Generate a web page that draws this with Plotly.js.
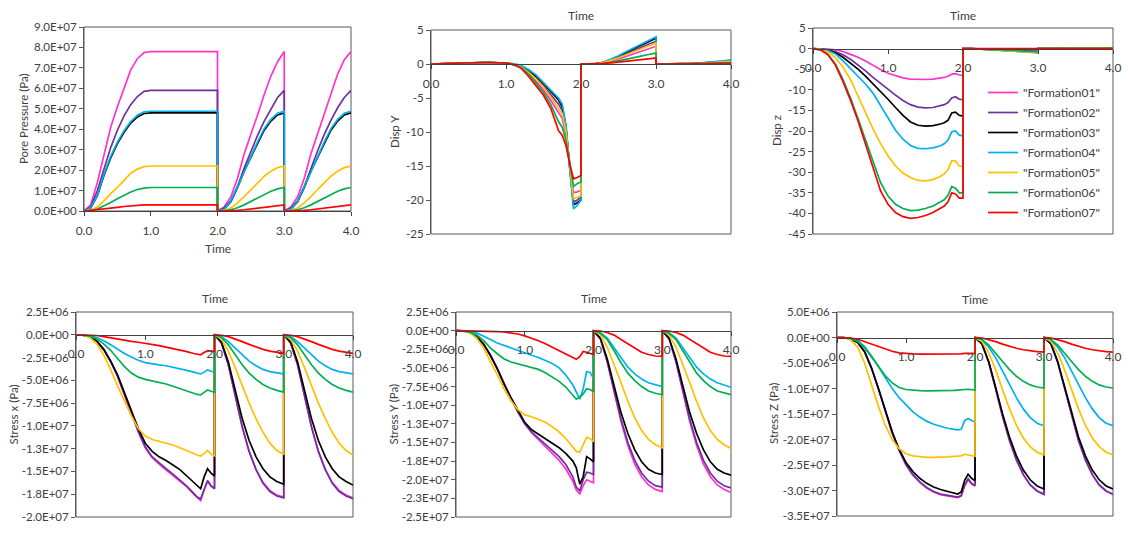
<!DOCTYPE html>
<html>
<head>
<meta charset="utf-8">
<script src="https://cdn.plot.ly/plotly-3.0.1.min.js"></script>
<style>html,body{margin:0;padding:0;background:#fff;}#chart{width:1128px;height:535px;}</style>
</head>
<body>
<div id="chart"></div>
<script>
// ---------------- DATA ----------------
const time = [0,0.1,0.2,0.3,0.4,0.5,0.6,0.7,0.8,0.9,1.0,1.1,1.2,1.3,1.4,1.5,1.6,1.7,1.75,1.8,1.85,1.9,1.95,2.0,
  2.0,2.1,2.2,2.3,2.4,2.5,2.6,2.7,2.8,2.9,3.0,
  3.0,3.1,3.2,3.3,3.4,3.5,3.6,3.7,3.8,3.9,4.0];

const formations = ['"Formation01"','"Formation02"','"Formation03"','"Formation04"','"Formation05"','"Formation06"','"Formation07"'];

// Pore pressure, MPa (1 MPa = 1.0E+06 Pa)
const pore_F01 = [0,3,14,28,41,51,60,69,74.5,77.5,78,78,78,78,78,78,78,78,78,78,78,78,78,78, 0,2,7,16,28,37,47,57,66,73,78, 0,2,7,16,28,38,48,58,67,74,78];
const pore_F02 = [0,2,10,21,31,39.5,46.5,52,56,58.5,59,59,59,59,59,59,59,59,59,59,59,59,59,59, 0,1.5,5,12,21,29,37,44,50,55.5,59, 0,1.5,5,12,21,29.5,37.5,44.5,50.5,55.5,59];
const pore_F03 = [0,1.5,7.5,17.5,26,33,38.5,43,46,47.7,48,48,48,48,48,48,48,48,48,48,48,48,48,48, 0,1,4.5,11.5,19.5,26.5,33,39.5,44,47,48, 0,1,4.5,11.5,19.5,26.5,33,39.5,44,47,48];
const pore_F04 = [0,1.6,7.8,18,26.7,33.7,39.3,43.8,46.8,48.5,48.8,48.8,48.8,48.8,48.8,48.8,48.8,48.8,48.8,48.8,48.8,48.8,48.8,48.8, 0,1,4.7,12,20,27.2,33.8,40.3,44.8,47.8,48.8, 0,1,4.7,12,20,27.2,33.8,40.3,44.8,47.8,48.8];
const pore_F05 = [0,0.5,2,5,8.5,11.5,15,18.5,20.5,21.7,22,22,22,22,22,22,22,22,22,22,22,22,22,22, 0,0.3,1.5,4,7,10.5,14,17,19.5,21.2,22, 0,0.3,1.5,4,7,10.5,14,17,19.5,21.2,22];
const pore_F06 = [0,0.2,1,2.5,4.2,6,7.8,9.3,10.5,11.2,11.5,11.5,11.5,11.5,11.5,11.5,11.5,11.5,11.5,11.5,11.5,11.5,11.5,11.5, 0,0.1,0.6,1.6,3,4.7,6.5,8.2,9.7,10.8,11.5, 0,0.1,0.6,1.6,3,4.7,6.5,8.2,9.7,10.8,11.5];
const pore_F07 = [0,0.3,0.7,1,1.4,1.8,2.2,2.5,2.8,3,3,3,3,3,3,3,3,3,3,3,3,3,3,3, 0,0,0.1,0.3,0.6,1,1.4,1.9,2.4,2.8,3, 0,0,0.1,0.3,0.6,1,1.4,1.9,2.4,2.8,3];

// Disp Y
const dispY_F01 = [0,0,0.05,0.1,0.15,0.2,0.22,0.22,0.22,0.2,0.15,-0.1,-0.45,-1.35,-2.5,-3.8,-5.4,-7.2,-8.0,-10.5,-14.6,-18.9,-18.8,-18.6, 0,0,0.03,0.15,0.4,0.75,1.1,1.5,1.85,2.25,2.6, 0,0,0,0.01,0.03,0.05,0.08,0.12,0.17,0.23,0.3];
const dispY_F02 = [0,0,0.05,0.1,0.15,0.2,0.22,0.22,0.22,0.2,0.15,-0.05,-0.35,-1.1,-2.0,-3.2,-4.5,-5.9,-6.8,-9.6,-15.0,-20.3,-20.0,-19.6, 0,0,0.04,0.2,0.55,0.95,1.45,1.95,2.4,2.9,3.3, 0,0,0,0.02,0.04,0.07,0.12,0.18,0.25,0.33,0.45];
const dispY_F03 = [0,0,0.05,0.1,0.15,0.2,0.22,0.22,0.22,0.2,0.15,0.0,-0.3,-1.0,-1.8,-2.9,-4.1,-5.3,-6.3,-9.3,-15.3,-20.7,-20.4,-20.0, 0,0,0.05,0.25,0.65,1.1,1.7,2.25,2.8,3.35,3.8, 0,0,0,0.02,0.04,0.08,0.14,0.2,0.28,0.37,0.5];
const dispY_F04 = [0,0,0.05,0.1,0.15,0.2,0.22,0.22,0.22,0.2,0.15,0.05,-0.2,-0.8,-1.6,-2.7,-3.9,-5.0,-5.9,-9.0,-15.5,-21.3,-20.8,-20.0, 0,0,0.05,0.25,0.7,1.2,1.8,2.35,2.9,3.5,4.0, 0,0,0,0.02,0.05,0.1,0.17,0.25,0.35,0.45,0.6];
const dispY_F05 = [0,0,0.05,0.1,0.15,0.2,0.22,0.22,0.22,0.2,0.15,-0.05,-0.4,-1.2,-2.2,-3.4,-4.9,-6.5,-7.3,-10.0,-14.8,-19.8,-19.6,-19.4, 0,0,0.04,0.2,0.5,0.9,1.35,1.8,2.25,2.7,3.1, 0,0,0,0.01,0.03,0.06,0.1,0.15,0.21,0.28,0.4];
const dispY_F06 = [0,0,0.05,0.1,0.15,0.2,0.22,0.22,0.22,0.2,0.15,-0.1,-0.5,-1.5,-2.8,-4.2,-6.0,-8.5,-9.3,-11.2,-14.5,-18.0,-17.6,-17.3, 0,0,0.02,0.1,0.25,0.45,0.7,0.95,1.15,1.4,1.6, 0,0,0,0.01,0.02,0.04,0.06,0.09,0.12,0.16,0.2];
const dispY_F07 = [0,0,0.05,0.1,0.15,0.2,0.22,0.22,0.22,0.2,0.15,-0.1,-0.6,-1.8,-3.2,-4.6,-6.6,-9.8,-10.5,-12.0,-14.7,-16.9,-16.7,-16.4, 0,0,0.02,0.08,0.17,0.27,0.38,0.5,0.62,0.76,0.9, 0,0,0,0,0.01,0.02,0.03,0.05,0.07,0.09,0.1];

// Disp z
const dispZ_F01 = [0,0,-0.1,-0.3,-0.7,-1.4,-2.1,-3.0,-4.1,-5.1,-6.0,-6.6,-7.1,-7.4,-7.5,-7.5,-7.4,-7.2,-7.0,-6.7,-6.2,-6.1,-6.4,-6.5, 0,0,-0.05,-0.1,-0.15,-0.2,-0.25,-0.3,-0.35,-0.4,-0.45, 0,0,0,0,0,0,0,0.01,0.02,0.04,0.05];
const dispZ_F02 = [0,-0.1,-0.3,-0.8,-1.5,-2.6,-3.9,-5.4,-7.0,-8.5,-9.9,-11.3,-12.6,-13.6,-14.2,-14.4,-14.3,-13.9,-13.6,-13.1,-12.0,-11.7,-12.3,-12.4, 0,-0.02,-0.05,-0.1,-0.2,-0.3,-0.4,-0.5,-0.6,-0.65,-0.7, 0,0,0,0,0,0,0.01,0.02,0.04,0.06,0.08];
const dispZ_F03 = [0,-0.1,-0.4,-1.0,-2.1,-3.5,-5.0,-6.7,-8.5,-10.3,-12.3,-14.3,-16.2,-17.8,-18.6,-18.8,-18.7,-18.3,-18.0,-17.4,-15.6,-15.4,-16.2,-16.4, 0,-0.03,-0.07,-0.15,-0.25,-0.35,-0.5,-0.6,-0.7,-0.8,-0.85, 0,0,0,0,0,0.01,0.02,0.04,0.07,0.1,0.13];
const dispZ_F04 = [0,-0.1,-0.5,-1.3,-3.0,-4.8,-6.6,-8.6,-10.8,-13.8,-16.9,-19.8,-22.0,-23.5,-24.2,-24.3,-24.1,-23.6,-23.1,-22.2,-20.2,-20.0,-21.0,-21.2, 0,-0.03,-0.08,-0.15,-0.3,-0.4,-0.55,-0.7,-0.8,-0.9,-1.0, 0,0,0,0,0,0,0.02,0.05,0.1,0.15,0.2];
const dispZ_F05 = [0,-0.2,-0.8,-2.2,-4.5,-7.5,-11.5,-15.5,-19.5,-23,-26,-28.5,-30.2,-31.3,-32.0,-32.1,-31.8,-31.0,-30.4,-29.4,-27.2,-27.3,-28.5,-28.6, 0,-0.03,-0.08,-0.15,-0.3,-0.4,-0.55,-0.7,-0.8,-0.9,-1.0, 0,0,0,0,0,0,0.02,0.04,0.08,0.12,0.17];
const dispZ_F06 = [0,-0.3,-1.4,-3.8,-7.5,-12.0,-17,-22,-27.5,-32.5,-35.8,-37.8,-38.8,-39.3,-39.2,-38.8,-38.2,-37.3,-36.7,-35.6,-33.5,-33.9,-35.0,-35.0, 0,-0.02,-0.06,-0.12,-0.2,-0.3,-0.4,-0.5,-0.6,-0.7,-0.8, 0,0,0,0,0,0,0.01,0.03,0.05,0.08,0.1];
const dispZ_F07 = [0,-0.3,-1.5,-4.0,-8.0,-12.5,-17.5,-23,-29,-34.5,-37.8,-39.8,-40.8,-41.2,-41.0,-40.5,-39.8,-38.8,-38.2,-37.2,-35.0,-35.3,-36.3,-36.3, 0,0,0,-0.02,-0.04,-0.06,-0.08,-0.1,-0.12,-0.14,-0.15, 0,0,0,0,0,0,0,0.01,0.02,0.03,0.04];

// Stress x, MPa
const stressX_F01 = [0,-0.03,-0.2,-0.7,-1.6,-2.9,-4.6,-6.6,-8.7,-10.7,-12.4,-13.5,-14.2,-14.8,-15.4,-16.0,-16.7,-17.5,-17.9,-18.2,-17.0,-16.1,-16.6,-16.8, 0,-0.9,-3.3,-6.8,-10.1,-12.8,-14.8,-16.2,-17.1,-17.6,-17.8, 0,-0.9,-3.3,-6.8,-10.1,-12.8,-14.8,-16.2,-17.1,-17.6,-17.9];
const stressX_F02 = [0,-0.03,-0.2,-0.7,-1.6,-2.9,-4.5,-6.4,-8.5,-10.6,-12.3,-13.4,-14.1,-14.7,-15.3,-15.9,-16.6,-17.4,-17.8,-18.0,-16.9,-16.0,-16.6,-16.9, 0,-0.9,-3.3,-6.8,-10.1,-12.8,-14.8,-16.3,-17.2,-17.7,-17.9, 0,-0.9,-3.3,-6.8,-10.1,-12.8,-14.8,-16.3,-17.2,-17.7,-18.0];
const stressX_F03 = [0,-0.03,-0.2,-0.7,-1.6,-2.9,-4.4,-6.3,-8.3,-10.3,-11.9,-12.8,-13.4,-13.8,-14.3,-14.8,-15.5,-16.2,-16.6,-16.9,-15.6,-14.7,-15.2,-15.5, 0,-0.8,-3.0,-6.2,-9.2,-11.6,-13.4,-14.7,-15.6,-16.1,-16.4, 0,-0.8,-3.0,-6.2,-9.2,-11.6,-13.4,-14.7,-15.6,-16.1,-16.5];
const stressX_F04 = [0,-0.02,-0.1,-0.3,-0.65,-1.1,-1.6,-2.05,-2.45,-2.8,-3.05,-3.2,-3.3,-3.4,-3.55,-3.7,-3.9,-4.1,-4.2,-4.3,-4.1,-3.85,-4.0,-4.05, 0,-0.2,-0.75,-1.5,-2.25,-2.9,-3.4,-3.8,-4.05,-4.2,-4.3, 0,-0.2,-0.75,-1.5,-2.25,-2.9,-3.4,-3.8,-4.05,-4.2,-4.3];
const stressX_F05 = [0,-0.05,-0.3,-1.0,-2.2,-3.8,-5.6,-7.3,-8.9,-10.3,-11.1,-11.5,-11.7,-11.9,-12.1,-12.4,-12.75,-13.1,-13.2,-13.3,-13.05,-12.7,-13.1,-13.3, 0,-0.5,-1.8,-3.6,-5.6,-7.5,-9.2,-10.7,-11.9,-12.7,-13.1, 0,-0.5,-1.8,-3.6,-5.6,-7.5,-9.2,-10.7,-11.9,-12.7,-13.2];
const stressX_F06 = [0,-0.03,-0.15,-0.45,-1.0,-1.7,-2.6,-3.5,-4.2,-4.65,-4.9,-5.05,-5.2,-5.4,-5.65,-5.9,-6.15,-6.45,-6.55,-6.6,-6.3,-6.05,-6.2,-6.3, 0,-0.3,-1.1,-2.2,-3.3,-4.2,-4.9,-5.45,-5.85,-6.1,-6.3, 0,-0.3,-1.1,-2.2,-3.3,-4.2,-4.9,-5.45,-5.85,-6.1,-6.3];
const stressX_F07 = [0,0,-0.02,-0.08,-0.2,-0.35,-0.5,-0.62,-0.72,-0.82,-0.92,-1.05,-1.2,-1.35,-1.5,-1.65,-1.85,-2.05,-2.15,-2.2,-1.95,-1.75,-1.8,-1.85, 0,-0.05,-0.2,-0.45,-0.75,-1.05,-1.35,-1.6,-1.8,-1.95,-2.05, 0,-0.05,-0.2,-0.45,-0.75,-1.05,-1.35,-1.6,-1.8,-1.95,-2.05];

// Stress Y, MPa
const stressY_F01 = [0,-0.03,-0.2,-0.8,-1.8,-3.3,-5.1,-7.2,-9.1,-10.9,-12.5,-13.7,-14.6,-15.5,-16.4,-17.4,-18.6,-20.2,-21.4,-21.9,-20.8,-20.0,-20.2,-20.4, 0,-1.1,-4.2,-8.3,-12.2,-15.4,-17.9,-19.6,-20.7,-21.3,-21.6, 0,-1.1,-4.2,-8.3,-12.2,-15.4,-17.9,-19.6,-20.7,-21.3,-21.7];
const stressY_F02 = [0,-0.03,-0.2,-0.8,-1.8,-3.3,-5.1,-7.2,-9.1,-10.9,-12.5,-13.6,-14.4,-15.2,-16.0,-16.9,-18.0,-19.6,-21.0,-21.5,-20.0,-19.0,-19.1,-19.3, 0,-1.1,-4.1,-8.1,-11.9,-15.0,-17.4,-19.1,-20.2,-20.8,-21.0, 0,-1.1,-4.1,-8.1,-11.9,-15.0,-17.4,-19.1,-20.2,-20.8,-21.1];
const stressY_F03 = [0,-0.03,-0.2,-0.8,-1.8,-3.3,-5.1,-7.2,-9.0,-10.7,-12.3,-13.3,-13.9,-14.4,-15.0,-15.7,-16.5,-17.5,-18.4,-20.6,-19.6,-16.9,-17.2,-17.6, 0,-1.0,-3.8,-7.5,-11.0,-13.8,-16.0,-17.6,-18.6,-19.1,-19.3, 0,-1.0,-3.8,-7.5,-11.0,-13.8,-16.0,-17.6,-18.6,-19.1,-19.4];
const stressY_F04 = [0,-0.02,-0.1,-0.3,-0.7,-1.2,-1.65,-2.0,-2.35,-2.7,-3.05,-3.3,-3.6,-4.0,-4.4,-5.0,-6.0,-7.3,-8.2,-9.2,-7.8,-5.5,-5.6,-6.4, 0,-0.3,-1.0,-2.3,-3.7,-4.9,-5.8,-6.5,-7.0,-7.3,-7.5, 0,-0.3,-1.0,-2.3,-3.7,-4.9,-5.8,-6.5,-7.0,-7.3,-7.6];
const stressY_F05 = [0,-0.05,-0.3,-1.0,-2.3,-4.0,-5.9,-7.8,-9.4,-10.6,-11.3,-11.55,-11.9,-12.3,-12.9,-13.6,-14.5,-15.6,-16.2,-16.3,-15.3,-14.3,-14.5,-14.9, 0,-0.6,-2.2,-4.5,-7.0,-9.5,-11.7,-13.4,-14.6,-15.3,-15.7, 0,-0.6,-2.2,-4.5,-7.0,-9.5,-11.7,-13.4,-14.6,-15.3,-15.8];
const stressY_F06 = [0,-0.03,-0.2,-0.6,-1.3,-2.3,-3.1,-3.8,-4.2,-4.45,-4.6,-4.85,-5.2,-5.65,-6.2,-6.8,-7.6,-8.6,-9.2,-8.9,-8.5,-7.8,-7.9,-8.2, 0,-0.35,-1.2,-2.7,-4.3,-5.7,-6.7,-7.5,-8.1,-8.4,-8.6, 0,-0.35,-1.2,-2.7,-4.3,-5.7,-6.7,-7.5,-8.1,-8.4,-8.6];
const stressY_F07 = [0,-0.01,-0.02,-0.03,-0.05,-0.08,-0.12,-0.18,-0.28,-0.45,-0.7,-1.0,-1.35,-1.75,-2.2,-2.65,-3.1,-3.6,-3.85,-3.5,-2.8,-2.9,-3.1,-3.2, 0,-0.05,-0.25,-0.6,-1.2,-1.8,-2.4,-2.9,-3.2,-3.4,-3.45, 0,-0.05,-0.25,-0.6,-1.2,-1.8,-2.4,-2.9,-3.2,-3.4,-3.45];

// Stress Z, MPa
const stressZ_F01 = [0,-0.03,-0.3,-1.0,-2.8,-6.0,-10.0,-14.4,-18.7,-22.1,-25.0,-27.0,-28.4,-29.5,-30.3,-30.8,-31.1,-31.3,-31.4,-31.1,-29.1,-27.9,-28.7,-29.1, 0,-1.2,-4.9,-10.1,-15.5,-20.2,-24.0,-26.9,-28.9,-30.1,-30.8, 0,-1.2,-4.9,-10.1,-15.5,-20.2,-24.0,-26.9,-28.9,-30.1,-30.8];
const stressZ_F02 = [0,-0.03,-0.3,-1.0,-2.8,-6.0,-10.0,-14.4,-18.7,-22.1,-24.9,-26.9,-28.3,-29.4,-30.2,-30.7,-31.0,-31.2,-31.3,-31.0,-28.9,-27.7,-28.6,-29.0, 0,-1.2,-4.9,-10.1,-15.5,-20.2,-24.0,-26.9,-28.9,-30.1,-30.7, 0,-1.2,-4.9,-10.1,-15.5,-20.2,-24.0,-26.9,-28.9,-30.1,-30.7];
const stressZ_F03 = [0,-0.03,-0.3,-1.0,-2.8,-6.0,-10.0,-14.3,-18.5,-21.9,-24.5,-26.3,-27.6,-28.6,-29.3,-29.8,-30.2,-30.5,-30.7,-30.3,-28.0,-26.8,-27.6,-28.1, 0,-1.2,-4.8,-9.8,-15.0,-19.5,-23.2,-26.0,-27.9,-29.1,-29.7, 0,-1.2,-4.8,-9.8,-15.0,-19.5,-23.2,-26.0,-27.9,-29.1,-29.7];
const stressZ_F04 = [0,-0.02,-0.15,-0.6,-1.8,-3.6,-5.8,-8.0,-10.0,-11.8,-13.3,-14.6,-15.6,-16.4,-17.0,-17.4,-17.8,-18.0,-18.1,-18.0,-16.3,-15.9,-16.3,-16.6, 0,-0.5,-1.9,-4.0,-6.6,-9.3,-11.8,-14.0,-15.7,-16.8,-17.3, 0,-0.5,-1.9,-4.0,-6.6,-9.3,-11.8,-14.0,-15.7,-16.8,-17.3];
const stressZ_F05 = [0,-0.05,-0.5,-1.9,-5.0,-9.3,-13.5,-17.2,-20.0,-21.8,-22.8,-23.2,-23.4,-23.5,-23.5,-23.5,-23.4,-23.3,-23.3,-23.2,-22.9,-23.0,-23.2,-23.3, 0,-0.8,-3.0,-6.4,-10.3,-14.0,-17.2,-19.7,-21.4,-22.5,-23.0, 0,-0.8,-3.0,-6.4,-10.3,-14.0,-17.2,-19.7,-21.4,-22.5,-23.0];
const stressZ_F06 = [0,-0.03,-0.2,-0.8,-2.0,-3.8,-5.7,-7.5,-8.9,-9.8,-10.2,-10.35,-10.4,-10.45,-10.45,-10.45,-10.4,-10.35,-10.3,-10.3,-10.2,-10.15,-10.2,-10.3, 0,-0.4,-1.5,-3.0,-4.7,-6.3,-7.6,-8.6,-9.3,-9.7,-9.9, 0,-0.4,-1.5,-3.0,-4.7,-6.3,-7.6,-8.6,-9.3,-9.7,-9.9];
const stressZ_F07 = [0,-0.02,-0.1,-0.35,-0.8,-1.3,-1.8,-2.3,-2.7,-3.0,-3.15,-3.2,-3.25,-3.25,-3.25,-3.25,-3.25,-3.2,-3.2,-3.2,-3.1,-3.05,-3.1,-3.15, 0,-0.1,-0.4,-0.8,-1.3,-1.75,-2.1,-2.4,-2.6,-2.75,-2.85, 0,-0.1,-0.4,-0.8,-1.3,-1.75,-2.1,-2.4,-2.6,-2.75,-2.85];

// Tick labels
const timeTickVals = [0,1,2,3,4];
const timeTickText = ['0.0','1.0','2.0','3.0','4.0'];
const poreTickVals = [0,10,20,30,40,50,60,70,80,90];
const poreTickText = ['0.0E+00','1.0E+07','2.0E+07','3.0E+07','4.0E+07','5.0E+07','6.0E+07','7.0E+07','8.0E+07','9.0E+07'];
const dispYTickVals = [-25,-20,-15,-10,-5,0,5];
const dispYTickText = ['-25','-20','-15','-10','-5','0','5'];
const dispZTickVals = [-45,-40,-35,-30,-25,-20,-15,-10,-5,0,5];
const dispZTickText = ['-45','-40','-35','-30','-25','-20','-15','-10','-5','0','5'];
const stressXTickVals = [-20,-17.5,-15,-12.5,-10,-7.5,-5,-2.5,0,2.5];
const stressXTickText = ['-2.0E+07','-1.8E+07','-1.5E+07','-1.3E+07','-1.0E+07','-7.5E+06','-5.0E+06','-2.5E+06','0.0E+00','2.5E+06'];
const stressYTickVals = [-25,-22.5,-20,-17.5,-15,-12.5,-10,-7.5,-5,-2.5,0,2.5];
const stressYTickText = ['-2.5E+07','-2.3E+07','-2.0E+07','-1.8E+07','-1.5E+07','-1.3E+07','-1.0E+07','-7.5E+06','-5.0E+06','-2.5E+06','0.0E+00','2.5E+06'];
const stressZTickVals = [-35,-30,-25,-20,-15,-10,-5,0,5];
const stressZTickText = ['-3.5E+07','-3.0E+07','-2.5E+07','-2.0E+07','-1.5E+07','-1.0E+07','-5.0E+06','0.0E+00','5.0E+06'];

// ---------------- STYLE / LAYOUT ----------------
const colors = ['#FF33CC','#7030A0','#000000','#00B0F0','#FFC000','#00B050','#FF0000'];
const W = 1128, H = 535;
const FONT = 'Lato, "Liberation Sans", sans-serif';
const TXT = '#404040';

const panels = [
  {series:[pore_F01,pore_F02,pore_F03,pore_F04,pore_F05,pore_F06,pore_F07], range:[0,90], tv:poreTickVals, tt:poreTickText,
   box:{l:84,r:351,t:27,b:211}, ytitle:'Pore Pressure (Pa)', ytx:23, timeY:248, bottomAxis:true},
  {series:[dispY_F01,dispY_F02,dispY_F03,dispY_F04,dispY_F05,dispY_F06,dispY_F07], range:[-25,5], tv:dispYTickVals, tt:dispYTickText,
   box:{l:431,r:731,t:30,b:234}, ytitle:'Disp Y', ytx:395, timeY:15},
  {series:[dispZ_F01,dispZ_F02,dispZ_F03,dispZ_F04,dispZ_F05,dispZ_F06,dispZ_F07], range:[-45,5], tv:dispZTickVals, tt:dispZTickText,
   box:{l:813,r:1113,t:28,b:234}, ytitle:'Disp z', ytx:776, timeY:15},
  {series:[stressX_F01,stressX_F02,stressX_F03,stressX_F04,stressX_F05,stressX_F06,stressX_F07], range:[-20,2.5], tv:stressXTickVals, tt:stressXTickText,
   box:{l:76,r:353,t:312,b:517}, ytitle:'Stress x (Pa)', ytx:13, timeY:298},
  {series:[stressY_F01,stressY_F02,stressY_F03,stressY_F04,stressY_F05,stressY_F06,stressY_F07], range:[-25,2.5], tv:stressYTickVals, tt:stressYTickText,
   box:{l:456,r:731,t:312,b:517}, ytitle:'Stress Y (Pa)', ytx:393, timeY:298},
  {series:[stressZ_F01,stressZ_F02,stressZ_F03,stressZ_F04,stressZ_F05,stressZ_F06,stressZ_F07], range:[-35,5], tv:stressZTickVals, tt:stressZTickText,
   box:{l:837,r:1113,t:312,b:516}, ytitle:'Stress Z (Pa)', ytx:773, timeY:299}
];

const traces = [];
const layout = {
  width: W, height: H, margin:{l:0,r:0,t:0,b:0},
  paper_bgcolor:'#ffffff', plot_bgcolor:'#ffffff',
  font:{family:FONT, size:11, color:TXT},
  showlegend:true,
  legend:{x:983/W, y:1-78/H, xanchor:'left', yanchor:'top', bgcolor:'rgba(0,0,0,0)',
          font:{family:FONT, size:12, color:TXT}, itemwidth:30, tracegroupgap:1},
  shapes:[], annotations:[]
};

panels.forEach((p, i) => {
  const n = i === 0 ? '' : String(i + 1);
  const xName = 'x' + n, yName = 'y' + n;
  const b = p.box;
  const yd0 = 1 - b.b / H, yd1 = 1 - b.t / H;
  const zeroPos = yd0 + (0 - p.range[0]) / (p.range[1] - p.range[0]) * (yd1 - yd0);

  p.series.forEach((ys, k) => {
    traces.push({
      type:'scatter', mode:'lines', x: time, y: ys, xaxis: xName, yaxis: yName,
      name: formations[k], legendgroup: formations[k], showlegend: i === 2,
      line:{color: colors[k], width:1.7}, hoverinfo:'skip'
    });
  });

  const xa = {
    domain:[b.l / W, b.r / W], range:[0,4], tickvals: timeTickVals, ticktext: timeTickText,
    showline:true, linecolor:'#404040', linewidth:1.2, ticks:'outside', ticklen:4, tickcolor:'#404040',
    showgrid:false, zeroline:false, tickfont:{family:FONT, size:12, color:TXT}, ticklabelstandoff:4, fixedrange:true
  };
  if (p.bottomAxis) { xa.anchor = yName; } else { xa.anchor = 'free'; xa.position = zeroPos; }
  const ya = {
    domain:[yd0, yd1], range: p.range, anchor: xName, tickvals: p.tv, ticktext: p.tt,
    showline:true, linecolor:'#595959', linewidth:1, ticks:'outside', ticklen:4, tickcolor:'#595959',
    showgrid:false, zeroline:false, tickfont:{family:FONT, size:11.5, color:TXT}, fixedrange:true
  };
  layout['xaxis' + n] = xa;
  layout['yaxis' + n] = ya;

  layout.shapes.push({type:'rect', xref: xName + ' domain', yref: yName + ' domain', x0:0, x1:1, y0:0, y1:1,
    line:{color:'#595959', width:1}, layer:'below'});

  layout.annotations.push({text:'Time', xref:'paper', yref:'paper', x:(b.l + b.r) / 2 / W, y:1 - p.timeY / H,
    xanchor:'center', yanchor:'middle', showarrow:false, font:{family:FONT, size:12, color:TXT}});
  layout.annotations.push({text:p.ytitle, xref:'paper', yref:'paper', x:p.ytx / W, y:1 - (b.t + b.b) / 2 / H,
    xanchor:'center', yanchor:'middle', textangle:-90, showarrow:false, font:{family:FONT, size:11.5, color:TXT}});
});

Plotly.newPlot('chart', traces, layout, {displayModeBar:false, staticPlot:true});
</script>
</body>
</html>
